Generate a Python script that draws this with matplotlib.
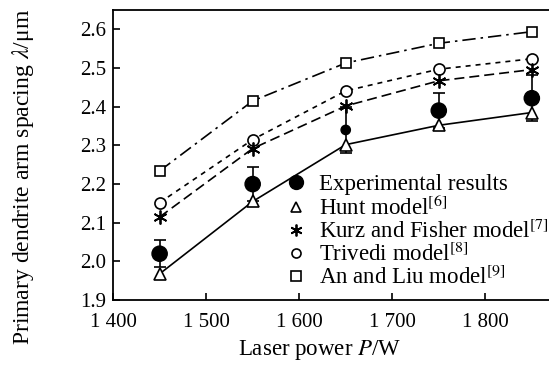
import matplotlib
matplotlib.use("Agg")
import matplotlib.pyplot as plt
from matplotlib.lines import Line2D

plt.rcParams['font.family'] = ['Liberation Serif', 'DejaVu Serif']
plt.rcParams['mathtext.fontset'] = 'stix'

# laser power (W)
power = [1450, 1550, 1650, 1750, 1850]

# primary dendrite arm spacing (um)
exp_vals = [2.020, 2.200, 2.340, 2.390, 2.422]
exp_err = [0.035, 0.045, 0.060, 0.045, 0.060]
hunt = [1.968, 2.155, 2.302, 2.352, 2.385]
kurz = [2.115, 2.292, 2.402, 2.467, 2.496]
trivedi = [2.152, 2.315, 2.441, 2.497, 2.524]
an_liu = [2.234, 2.415, 2.513, 2.564, 2.594]

xticks = [1400, 1500, 1600, 1700, 1800]
xtick_labels = ['1 400', '1 500', '1 600', '1 700', '1 800']
yticks = [1.9, 2.0, 2.1, 2.2, 2.3, 2.4, 2.5, 2.6]

fig = plt.figure(figsize=(5.49, 3.71), dpi=100)
ax = fig.add_axes([0.206, 0.191, 0.80, 0.782])

lw = 1.2
sq = dict(marker='s', ms=7.5, mfc='white', mec='black', mew=1.2)
ci = dict(marker='o', ms=8, mfc='white', mec='black', mew=1.2)
st = dict(marker=(6, 2, 0), ms=10, mec='black', mew=1.3)
tr = dict(marker='^', ms=9, mfc='white', mec='black', mew=1.2)

ax.plot(power, an_liu, color='black', lw=lw, linestyle=(0, (8, 3, 1.5, 3)),
        zorder=3, **sq)
ax.plot(power, trivedi, color='black', lw=lw, linestyle=(0, (3, 3)),
        zorder=3, **ci)
ax.plot(power, kurz, color='black', lw=lw, linestyle=(0, (6, 3)),
        zorder=3, **st)
ax.plot(power, hunt, color='black', lw=lw, linestyle='-', zorder=3, **tr)
ax.errorbar(power, exp_vals, yerr=exp_err, fmt='none', ecolor='black',
            elinewidth=1.2, capsize=4, capthick=1.2, zorder=2)
ax.scatter(power, exp_vals, s=[120, 120, 45, 120, 120], color='black',
           zorder=4)

ax.set_xlim(1400, 1872)
ax.set_ylim(1.9, 2.65)
ax.set_xticks(xticks)
ax.set_xticklabels(xtick_labels)
ax.set_yticks(yticks)
ax.set_yticklabels(['%.1f' % v for v in yticks])
ax.tick_params(direction='in', length=5, width=1.2, labelsize=15,
               top=False, right=False)
ax.tick_params(axis='x', pad=9)
ax.tick_params(axis='y', pad=5)
for side in ['left', 'bottom', 'top']:
    ax.spines[side].set_linewidth(1.3)
ax.spines['right'].set_visible(False)

ax.set_xlabel(r'Laser power $P$/W', fontsize=16.5)
ax.xaxis.set_label_coords(0.47, -0.13)
ax.set_ylabel(r'Primary dendrite arm spacing $\lambda$/μm', fontsize=17)
ax.yaxis.set_label_coords(-0.175, 0.424)

handles = [
    Line2D([], [], linestyle='none', marker='o', ms=10, color='black'),
    Line2D([], [], linestyle='none', **dict(tr, ms=7.5)),
    Line2D([], [], linestyle='none', **dict(st, ms=8.5)),
    Line2D([], [], linestyle='none', **dict(ci, ms=6.5)),
    Line2D([], [], linestyle='none', **dict(sq, ms=6.5)),
]
labels = ['Experimental results', r'Hunt model$^{[6]}$',
          r'Kurz and Fisher model$^{[7]}$', r'Trivedi model$^{[8]}$',
          r'An and Liu model$^{[9]}$']
ax.legend(handles, labels, loc='upper left', bbox_to_anchor=(0.39, 0.435),
          frameon=False, fontsize=16.5, handlelength=1.0, handletextpad=0.5,
          labelspacing=0.0, borderpad=0, borderaxespad=0)

fig.savefig('out.png', dpi=100)
